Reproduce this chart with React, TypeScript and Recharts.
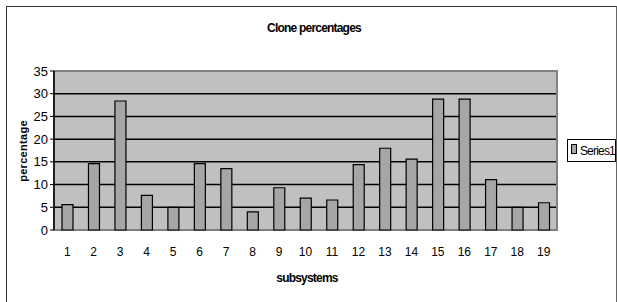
import { BarChart, Bar, XAxis, YAxis, CartesianGrid, Legend, ReferenceArea } from "recharts"

const subsystems = ["1", "2", "3", "4", "5", "6", "7", "8", "9", "10", "11", "12", "13", "14", "15", "16", "17", "18", "19"]
const series1 = [5.6, 14.6, 28.4, 7.6, 5, 14.6, 13.5, 4, 9.3, 7, 6.6, 14.4, 18, 15.6, 28.8, 28.8, 11.1, 5, 6]
const yTicks = [0, 5, 10, 15, 20, 25, 30, 35]
const boundaries = [...subsystems.map((_, i) => i), subsystems.length]

const data = subsystems.map((name, i) => ({ name, Series1: series1[i] }))

const FONT = "'Liberation Sans Narrow', 'Liberation Sans', Arial, sans-serif"

// small legend box like the old excel one
function LegendBox() {
  return (
    <div
      style={{
        border: "1px solid #000",
        background: "#fff",
        width: 49,
        height: 23,
        display: "flex",
        alignItems: "center",
        fontFamily: FONT,
        fontSize: 12,
        letterSpacing: -0.8,
        color: "#000",
        boxSizing: "border-box",
      }}
    >
      <span
        style={{
          display: "inline-block",
          width: 6,
          height: 8,
          background: "#a6a6a6",
          border: "1px solid #000",
          marginLeft: 3,
          marginRight: 3,
          marginTop: -3,
        }}
      />
      Series1
    </div>
  )
}

export default function App() {
  return (
    <div style={{ position: "absolute", left: 0, top: 0, width: 617, height: 302, background: "#fff" }}>
      <div
        style={{
          position: "absolute",
          left: 6,
          top: 6,
          width: 609,
          height: 300,
          border: "1px solid #333",
          borderRight: "1px solid #666",
        }}
      />
      <BarChart
        width={617}
        height={302}
        data={data}
        margin={{ top: 71, right: 60, left: 14, bottom: 30 }}
        barCategoryGap={0}
        style={{ position: "absolute", left: 0, top: 0 }}
      >
        <CartesianGrid xAxisId="cat" vertical={false} stroke="#000" strokeWidth={1.5} fill="#c0c0c0" fillOpacity={1} />
        <ReferenceArea xAxisId="cat" y1={0} y2={35} fill="none" stroke="#808080" strokeWidth={2} />
        <XAxis
          xAxisId="edges"
          type="number"
          domain={[0, subsystems.length]}
          ticks={boundaries}
          height={0}
          tick={false}
          tickSize={5}
          axisLine={{ stroke: "#000", strokeWidth: 1.5 }}
          tickLine={{ stroke: "#000" }}
        />
        <XAxis
          xAxisId="cat"
          dataKey="name"
          height={42}
          axisLine={false}
          tickLine={false}
          tickSize={0}
          tickMargin={17}
          interval={0}
          tick={{ fill: "#000", fontSize: 12, fontFamily: FONT }}
        />
        <YAxis
          domain={[0, 35]}
          ticks={yTicks}
          width={40}
          tickSize={4}
          tickMargin={2}
          interval={0}
          axisLine={{ stroke: "#000", strokeWidth: 1.5 }}
          tickLine={{ stroke: "#000" }}
          tick={{ fill: "#000", fontSize: 13, fontFamily: FONT }}
        />
        <Legend
          layout="vertical"
          align="center"
          verticalAlign="middle"
          content={() => <LegendBox />}
          wrapperStyle={{ position: "absolute", left: 567, top: 139, width: 49 }}
        />
        <Bar
          xAxisId="cat"
          dataKey="Series1"
          fill="#a6a6a6"
          stroke="#000"
          strokeWidth={1.2}
          barSize={11}
          isAnimationActive={false}
        />
      </BarChart>
      <svg width={617} height={302} style={{ position: "absolute", left: 0, top: 0, pointerEvents: "none" }}>
        <text x={314} y={32} textAnchor="middle" fontFamily={FONT} fontWeight="bold" fontSize={12} letterSpacing={-0.8} fill="#000">
          Clone percentages
        </text>
        <text x={307} y={282} textAnchor="middle" fontFamily={FONT} fontWeight="bold" fontSize={12} letterSpacing={-0.8} fill="#000">
          subsystems
        </text>
        <text
          x={27}
          y={151}
          textAnchor="middle"
          transform="rotate(-90, 27, 151)"
          fontFamily="'Liberation Sans', Arial, sans-serif"
          fontWeight="bold"
          fontSize={11}
          letterSpacing={0.3}
          fill="#000"
        >
          percentage
        </text>
      </svg>
    </div>
  )
}
